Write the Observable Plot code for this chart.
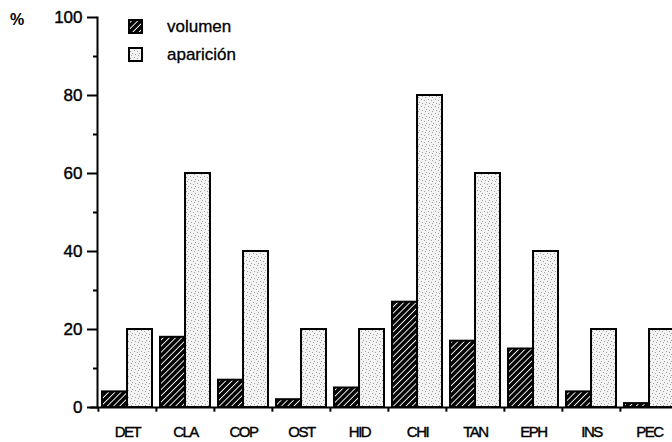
<!DOCTYPE html>
<html>
<head>
<meta charset="utf-8">
<script src="https://cdn.jsdelivr.net/npm/d3@7"></script>
<script src="https://cdn.jsdelivr.net/npm/@observablehq/plot@0.6"></script>
<style>
  html, body { margin: 0; padding: 0; background: #fff; }
  svg { display: block; }
</style>
</head>
<body>
<div id="chart"></div>
<script>
const categories = ["DET", "CLA", "COP", "OST", "HID", "CHI", "TAN", "EPH", "INS", "PEC"];
const volumen = [4, 18, 7, 2, 5, 27, 17, 15, 4, 1];
const aparicion = [20, 60, 40, 20, 20, 80, 60, 40, 20, 20];
const seriesLabels = ["volumen", "aparición"];
const yTicks = [0, 20, 40, 60, 80, 100];
const yMinorTicks = [10, 30, 50, 70, 90];
const unitLabel = "%";

const W = 672, H = 442;
const xRange = [97, 679];
const pIn = 0.14, pOut = 0.07;
const step = (xRange[1] - xRange[0]) / (categories.length - pIn + 2 * pOut);
const bw = step * (1 - pIn);
const half = bw / 2;

const font = "'Liberation Sans', Arial, Helvetica, sans-serif";

const svg = Plot.plot({
  width: W,
  height: H,
  marginLeft: 97,
  marginRight: 0,
  marginTop: 17,
  marginBottom: 35,
  style: { fontFamily: font, fontSize: "16px", color: "black", background: "white" },
  x: { type: "band", domain: categories, range: xRange, paddingInner: pIn, paddingOuter: pOut, align: 0.5 },
  y: { domain: [0, 100], range: [407, 17] },
  marks: [
    Plot.barY(categories, {
      x: d => d, y: (d, i) => volumen[i],
      insetRight: half, fill: "url(#hatch)", stroke: "black", strokeWidth: 2
    }),
    Plot.barY(categories, {
      x: d => d, y: (d, i) => aparicion[i],
      insetLeft: half, fill: "url(#stipple)", stroke: "black", strokeWidth: 2
    }),
    Plot.axisY(yTicks, { tickSize: 10, tickPadding: 5, tickFormat: d => String(d), label: null, fontSize: 17, strokeWidth: 2 }),
    Plot.axisY(yMinorTicks, { tickSize: 4, tickFormat: () => "", label: null, strokeWidth: 2 }),
    Plot.axisX({ tickSize: 0, tickPadding: 19, label: null, fontSize: 15 }),
    Plot.ruleX(categories, { x: d => d, y1: 0, y2: -1.2, dx: -step / 2, strokeWidth: 2 }),
    Plot.frame({ anchor: "left", strokeWidth: 2 }),
    Plot.ruleY([0], { insetLeft: -7, strokeWidth: 2 })
  ]
});

const root = d3.select(svg);
const defs = root.insert("defs", ":first-child");
const hs = 4.4;
const hatch = defs.append("pattern")
  .attr("id", "hatch").attr("patternUnits", "userSpaceOnUse")
  .attr("width", hs).attr("height", hs)
  .attr("patternTransform", "rotate(45)");
hatch.append("rect").attr("width", hs).attr("height", hs).attr("fill", "#050505");
hatch.append("line").attr("x1", hs / 2).attr("x2", hs / 2).attr("y1", 0).attr("y2", hs)
  .attr("stroke", "white").attr("stroke-width", 0.9);

const stip = defs.append("pattern")
  .attr("id", "stipple").attr("patternUnits", "userSpaceOnUse")
  .attr("width", 7).attr("height", 7);
stip.append("rect").attr("width", 7).attr("height", 7).attr("fill", "#f3f3f3");
[[1, 1], [4, 2], [2, 5], [6, 4], [5, 6]].forEach(([a, b]) =>
  stip.append("rect").attr("x", a).attr("y", b).attr("width", 1).attr("height", 1).attr("fill", "#a0a0a0"));

root.selectAll('g[aria-label="x-axis tick label"] text').attr("letter-spacing", "-1.5");
root.selectAll('g[aria-label="x-axis tick label"], g[aria-label="y-axis tick label"]')
  .attr("stroke", "black").attr("stroke-width", 0.4);

// unit label
root.append("text").attr("x", 17).attr("y", 25).attr("text-anchor", "middle")
  .attr("font-family", font).attr("font-size", 16).attr("font-weight", "bold").text(unitLabel);

// legend
const legend = root.append("g").attr("font-family", font).attr("font-size", 17)
  .attr("text-anchor", "start");
const fills = ["url(#hatch)", "url(#stipple)"];
seriesLabels.forEach((s, i) => {
  const y0 = 20 + i * 28;
  legend.append("rect").attr("x", 129).attr("y", y0).attr("width", 13).attr("height", 13)
    .attr("fill", fills[i]).attr("stroke", "black").attr("stroke-width", 2);
  legend.append("text").attr("x", 167).attr("y", y0 + 12)
    .attr("stroke", "black").attr("stroke-width", 0.3).text(s);
});

document.getElementById("chart").appendChild(svg);
</script>
</body>
</html>
